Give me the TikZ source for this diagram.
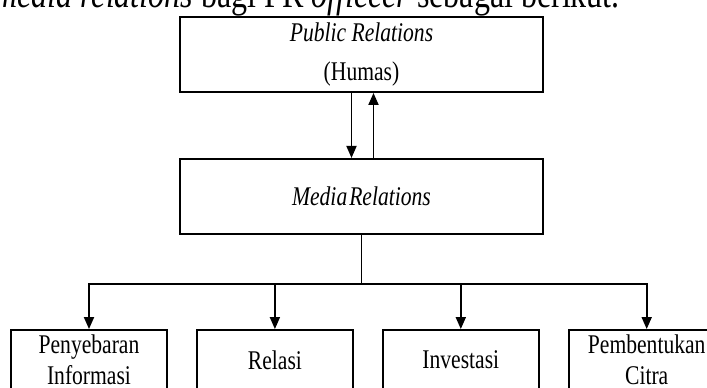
\documentclass[tikz,border=0pt]{standalone}
\usepackage{fontspec}
\setmainfont{Liberation Serif}[FakeStretch=0.8]
\usepackage{tikz}
\usetikzlibrary{arrows.meta,positioning}

\begin{document}
\begin{tikzpicture}[x=1pt,y=-1pt,node distance=65pt and 28pt,
  box/.style={draw,line width=1.9pt,align=center,inner sep=0pt,
              font=\fontsize{27}{31}\selectfont,minimum width=#1,minimum height=75pt},box/.default=363pt,
  sub/.style={box=156pt,minimum height=60pt},
  arr/.style={line width=1.8pt,-{Triangle[length=12pt,width=10pt]}}]
  \useasboundingbox (0,0) rectangle (707,388);
  \clip (0,0) rectangle (707,388);
  % line of body text cut off at the top
  \node[anchor=base east,inner sep=0pt,font=\fontsize{40}{44}\selectfont] (intro) at (620,7)
    {\textit{media relations} bagi PR \textit{offiecer} sebagai berikut.};
  \node[box] (pr) at (361.5,54.5) {\textit{Public Relations}\\[8pt](Humas)};
  \node[box,below=of pr] (media) {\textit{Media\hspace{2pt}Relations}};
  \node[sub] (b1) at (89,360) {Penyebaran\\Informasi};
  \node[sub,right=of b1] (b2) {Relasi};
  \node[sub,right=of b2] (b3) {Investasi};
  \node[sub,right=of b3] (b4) {Pembentukan\\Citra};
  \draw[arr] ([xshift=-10pt]pr.south) -- ([xshift=-10pt]media.north);
  \draw[arr] ([xshift=12pt]media.north) -- ([xshift=12pt]pr.south);
  \foreach \b in {b1,b2,b3,b4}
    \draw[arr] (media.south) -- ++(0,49) -| (\b.north);
\end{tikzpicture}
\end{document}
